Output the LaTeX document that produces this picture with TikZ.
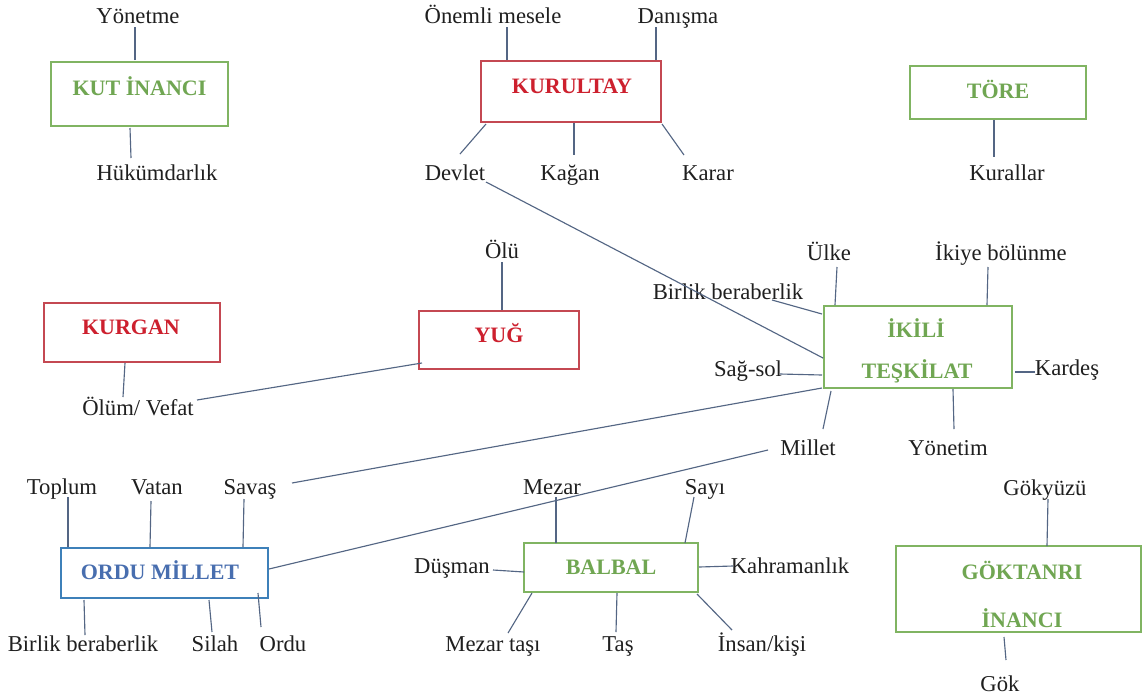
\documentclass[tikz,border=0pt]{standalone}
\usepackage{fontspec}
\setmainfont{Liberation Serif}
\usetikzlibrary{fit}
\definecolor{gT}{RGB}{112,166,82}
\definecolor{gB}{RGB}{128,180,98}
\definecolor{rT}{RGB}{205,32,46}
\definecolor{rB}{RGB}{196,72,82}
\definecolor{bT}{RGB}{72,110,175}
\definecolor{bB}{RGB}{62,128,185}
\definecolor{lnC}{RGB}{84,102,132}
\newcommand\conn[3]{\coordinate (#1-a) at (#2); \coordinate (#1-b) at (#3); \draw[conn] (#1-a) -- (#1-b);}
\begin{document}
\begin{tikzpicture}[x=0.75pt,y=-0.75pt,
  lbl/.style={anchor=base,inner sep=0pt,font=\fontsize{17}{20}\selectfont,text=black!88},
  ttl/.style={anchor=base,inner sep=0pt,font=\fontsize{16.5}{20}\selectfont\bfseries},
  gbox/.style={draw=gB,line width=1.4pt,inner sep=0pt,rectangle},
  rbox/.style={draw=rB,line width=1.4pt,inner sep=0pt,rectangle},
  bbox/.style={draw=bB,line width=1.4pt,inner sep=0pt,rectangle},
  conn/.style={draw=lnC,line width=0.85pt}]
\useasboundingbox[fill=white] (0,0) rectangle (1143,697);
% boxes
\node[gbox,fit={(51,62)(228,126)}] (kut) {};
\node[rbox,fit={(481,61)(661,122)}] (kurultay) {};
\node[gbox,fit={(910,66)(1086,119)}] (tore) {};
\node[rbox,fit={(44,303)(220,362)}] (kurgan) {};
\node[rbox,fit={(419,311)(579,369)}] (yug) {};
\node[gbox,fit={(824,306)(1012,388)}] (ikili) {};
\node[bbox,fit={(61,548)(268,598)}] (ordu) {};
\node[gbox,fit={(524,543)(698,592)}] (balbal) {};
\node[gbox,fit={(896,546)(1141,632)}] (gok) {};
% titles
\node[ttl,text=gT] (kutT) at (139.5,95) {KUT İNANCI};
\node[ttl,text=rT] (kurultayT) at (572,93) {KURULTAY};
\node[ttl,text=gT] (toreT) at (998,98) {TÖRE};
\node[ttl,text=rT] (kurganT) at (131,334) {KURGAN};
\node[ttl,text=rT] (yugT) at (499,342) {YUĞ};
\node[ttl,text=gT] (ikiliT1) at (916,337) {İKİLİ};
\node[ttl,text=gT] (ikiliT2) at (917,378) {TEŞKİLAT};
\node[ttl,text=bT] (orduT) at (160,579) {ORDU MİLLET};
\node[ttl,text=gT] (balbalT) at (611,574) {BALBAL};
\node[ttl,text=gT] (gokT1) at (1022,579) {GÖKTANRI};
\node[ttl,text=gT] (gokT2) at (1022,627) {İNANCI};
% labels
\node[lbl] (l1) at (138,23) {Yönetme};
\node[lbl] (l2) at (157,180) {Hükümdarlık};
\node[lbl] (l3) at (493,23) {Önemli mesele};
\node[lbl] (l4) at (678,23) {Danışma};
\node[lbl] (l5) at (455,180) {Devlet};
\node[lbl] (l6) at (570,180) {Kağan};
\node[lbl] (l7) at (708,180) {Karar};
\node[lbl] (l8) at (1007,180) {Kurallar};
\node[lbl] (l9) at (502,258) {Ölü};
\node[lbl] (l10) at (138,415) {Ölüm/ Vefat};
\node[lbl] (l11) at (829,260) {Ülke};
\node[lbl] (l12) at (1001,260) {İkiye bölünme};
\node[lbl] (l13) at (728,299) {Birlik beraberlik};
\node[lbl] (l14) at (748,376) {Sağ-sol};
\node[lbl] (l15) at (1067,375) {Kardeş};
\node[lbl] (l16) at (808,455) {Millet};
\node[lbl] (l17) at (948,455) {Yönetim};
\node[lbl] (l18) at (62,494) {Toplum};
\node[lbl] (l19) at (157,494) {Vatan};
\node[lbl] (l20) at (250,494) {Savaş};
\node[lbl] (l21) at (83,651) {Birlik beraberlik};
\node[lbl] (l22) at (215,651) {Silah};
\node[lbl] (l23) at (283,651) {Ordu};
\node[lbl] (l24) at (552,494) {Mezar};
\node[lbl] (l25) at (705,494) {Sayı};
\node[lbl] (l26) at (452,573) {Düşman};
\node[lbl] (l27) at (790,573) {Kahramanlık};
\node[lbl] (l28) at (493,651) {Mezar taşı};
\node[lbl] (l29) at (618,651) {Taş};
\node[lbl] (l30) at (762,651) {İnsan/kişi};
\node[lbl] (l31) at (1045,495) {Gökyüzü};
\node[lbl] (l32) at (1000,691) {Gök};
% connectors
\conn{c1}{135,60}{135,27}
\conn{c2}{130,128}{131,158}
\conn{c3}{507,60}{507,27}
\conn{c4}{656,60}{656,27}
\conn{c5}{486,124}{460,154}
\conn{c6}{574,123}{574,155}
\conn{c7}{662,124}{684,155}
\conn{c8}{486,182}{823,358}
\conn{c9}{994,120}{994,157}
\conn{c10}{502,262}{502,310}
\conn{c11}{125,363}{123,397}
\conn{c12}{197,400}{422,363}
\conn{c13}{835,305}{837,267}
\conn{c14}{987,305}{988,267}
\conn{c15}{822,314}{772,300}
\conn{c16}{822,375}{780,374}
\conn{c17}{1015,372}{1035,372}
\conn{c18}{831,391}{823,429}
\conn{c19}{953,389}{954,429}
\conn{c20}{822,388}{292,483}
\conn{c21}{768,450}{269,569}
\conn{c22}{68,547}{68,497}
\conn{c23}{150,547}{151,501}
\conn{c24}{243,547}{244,499}
\conn{c25}{84,600}{85,635}
\conn{c26}{209,600}{212,632}
\conn{c27}{258,593}{261,627}
\conn{c28}{556,543}{556,497}
\conn{c29}{685,543}{694,497}
\conn{c30}{524,572}{493,570}
\conn{c31}{699,567}{733,566}
\conn{c32}{532,593}{508,633}
\conn{c33}{617,593}{616,632}
\conn{c34}{697,594}{732,630}
\conn{c35}{1047,546}{1048,499}
\conn{c36}{1004,637}{1006,660}
\end{tikzpicture}
\end{document}
